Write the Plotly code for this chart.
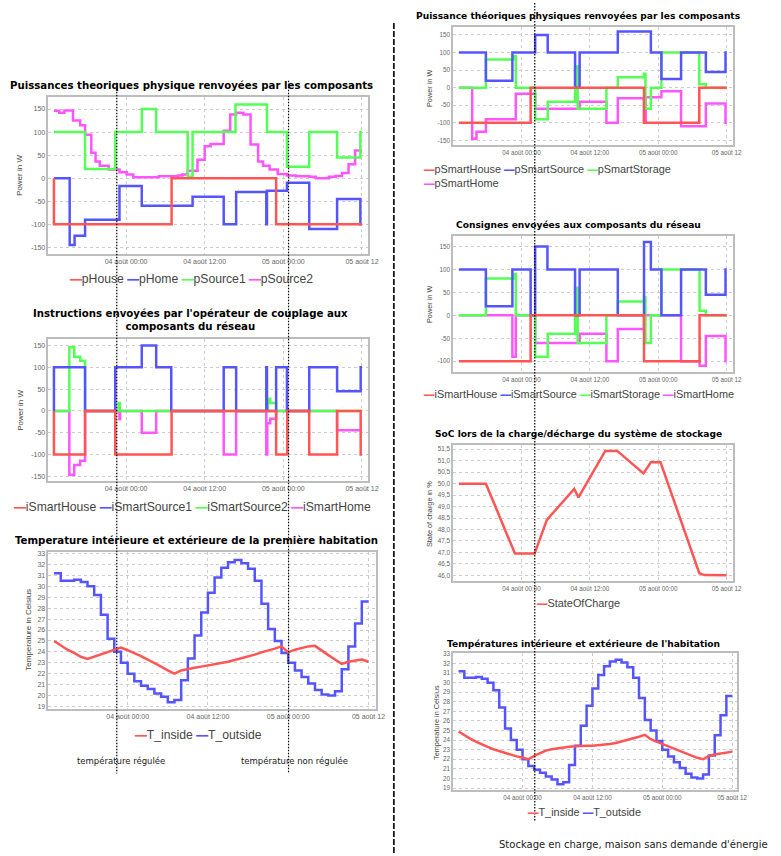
import plotly.graph_objects as go

W, H = 781, 856
RED, BLUE, GREEN, MAGENTA = "#ff5555", "#5555ff", "#55ff55", "#ff55ff"

# ---------------- axes / ticks ----------------
# time is expressed in hours relative to "04 août 00:00"
X_TICKVALS = [0, 12, 24, 36]
X_TICKTEXT = ["04 août 00:00", "04 août 12:00", "05 août 00:00", "05 août 12"]
HOURS = list(range(-11, 37))

POWER_TICKS = [-150, -100, -50, 0, 50, 100, 150]
POWER_TICKS_R2 = [-100, -50, 0, 50, 100, 150]
TEMP_TICKS = list(range(19, 34))
SOC_TICKS = [46.0, 46.5, 47.0, 47.5, 48.0, 48.5, 49.0, 49.5, 50.0, 50.5, 51.0, 51.5]

# ---------------- chart L1 : Puissances theoriques ----------------
pHouse_t = [-11, -11, 6.95, 22.9, 36]
pHouse_v = [0, -100, 0, -100, -100]
pHome_t = [-11, -8.6, -7.85, -6.25, -1.0, 2.4, 10.15, 14.9, 16.8, 21.4, 21.5, 24.55, 27.95, 32.2, 35.75, 36]
pHome_v = [0, -145, -125, -90, -17, -60, -40, -100, -30, -100, -27, -10, -110, -45, -100, -100]
pSource1_t = [-11, -6.25, -1.65, 2.4, 4.6, 9.4, 10.15, 16.7, 21.5, 24.55, 27.95, 32.2, 35.75, 36]
pSource1_v = [100, 20, 100, 150, 100, 3, 100, 160, 100, 25, 100, 45, 100, 100]
pSource2_t = [-11, -10.2, -9.4, -8.1, -7.0, -6.25, -5.3, -4.65, -4.0, -2.65, -1.0, 0.1, 1.1, 5.0, 7.9,
              8.6, 9.4, 10.9, 12.0, 12.9, 14.9, 15.9, 16.8, 17.9, 19.0, 20.15, 20.9, 21.9, 23.15, 24.55,
              25.9, 27.95, 28.95, 30.95, 31.95, 32.95, 33.95, 34.95, 36]
pSource2_v = [146, 142, 147, 125, 115, 94, 55, 36, 27, 19, 13, 8, 2, 4, 6,
              8, 16, 40, 69, 74, 103, 138, 142, 138, 73, 36, 27, 19, 9, 6,
              4, 3, 0, 3, 5, 11, 30, 60, 60]

# ---------------- chart L2 : Instructions ----------------
iSmartHouse_t = [-11, -11, -6.25, -1.65, 6.95, 22.9, 24.6, 27.95, 32.2, 35.8, 36]
iSmartHouse_v = [0, -100, 0, -100, 0, -100, 0, -100, 0, -100, -100]
iSmartSource1_t = [-11, -11, -6.25, -1.65, 2.4, 4.6, 6.9, 14.9, 16.8, 21.4, 21.5, 22.9, 24.55, 27.95, 32.2, 35.8, 36]
iSmartSource1_v = [0, 100, 0, 100, 150, 100, 0, 100, 0, 100, 0, 100, 0, 100, 45, 100, 100]
iSmartSource2_t = [-11, -8.65, -7.9, -7.0, -6.25, -1.1, -0.95, 21.65, 22.0, 22.9, 36]
iSmartSource2_v = [0, 146, 124, 115, 0, 18, 0, 28, 18, 0, 0]
iSmartHome_t = [-11, -8.65, -7.9, -7.0, -6.25, -1.0, -0.9, 2.4, 4.6, 14.9, 16.8, 21.4, 21.55, 22.0, 22.9, 32.2, 35.75]
iSmartHome_v = [0, -146, -124, -114, 0, -19, 0, -50, 0, -100, 0, -100, -28, -18, 0, -44, -44]

# ---------------- temperatures (hourly, HOURS) ----------------
T_outside = [31.2, 30.5, 30.5, 30.6, 30.4, 30.0, 29.2, 27.4, 25.2, 24.0, 23.0, 22.0, 21.3, 20.9, 20.6, 20.2,
             19.9, 19.4, 19.6, 21.4, 23.4, 25.5, 27.6, 29.4, 30.8, 31.7, 32.2, 32.4, 32.1, 31.6, 30.5, 28.4,
             26.1, 25.0, 23.9, 23.0, 22.3, 21.7, 21.1, 20.5, 20.1, 20.0, 20.4, 22.4, 24.5, 26.6, 28.6, 28.6]
T_inside_L = [25.0, 24.6, 24.2, 23.9, 23.55, 23.35, 23.55, 23.75, 23.95, 24.2, 24.4, 24.15, 23.9, 23.6, 23.3, 23.0,
              22.65, 22.3, 22.0, 22.3, 22.45, 22.55, 22.65, 22.75, 22.85, 22.95, 23.1, 23.25, 23.4, 23.6, 23.75, 23.95,
              24.1, 24.3, 24.5, 23.95, 24.2, 24.35, 24.5, 24.55, 24.1, 23.7, 23.3, 22.9, 23.1, 23.2, 23.3, 23.1]
T_inside_R = [24.9, 24.5, 24.15, 23.85, 23.55, 23.3, 23.05, 22.85, 22.65, 22.45, 22.3, 22.15, 22.0, 22.35, 22.65, 22.9,
              23.05, 23.15, 23.25, 23.3, 23.35, 23.4, 23.4, 23.4, 23.45, 23.5, 23.6, 23.7, 23.85, 24.0, 24.15, 24.35,
              24.55, 24.1, 23.85, 23.6, 23.35, 23.1, 22.85, 22.6, 22.35, 22.15, 22.0, 22.35, 22.5, 22.6, 22.7, 22.8]

# ---------------- chart R1 : Puissance théoriques (avec stockage) ----------------
pSmartHouse_t = [-11, 1.6, 21.5, 31.2, 36]
pSmartHouse_v = [-100, 0, -100, 0, 0]
pSmartSource_t = [-11, -6.25, -1.6, 2.4, 4.6, 9.4, 10.2, 16.9, 22.7, 24.55, 28.0, 32.35, 35.8, 36]
pSmartSource_v = [100, 20, 100, 150, 100, 0, 100, 160, 100, 25, 100, 45, 100, 100]
pSmartStorage_t = [-11, -6.25, -1.45, -1.0, 2.4, 4.6, 9.4, 9.85, 14.9, 16.9, 21.5, 21.75, 22.7, 24.55, 31.2, 32.35, 36]
pSmartStorage_v = [0, 80, 90, 0, -90, -40, 60, -60, 0, 30, 40, -60, 0, 100, 10, 0, 0]
pSmartHome_t = [-11, -8.65, -7.9, -6.25, -1.0, 2.4, 10.2, 14.9, 16.9, 21.5, 21.8, 24.55, 28.0, 32.35, 35.8, 36]
pSmartHome_v = [0, -145, -125, -90, -17, -60, -40, -100, -30, -100, -27, -10, -110, -45, -100, -100]

# ---------------- chart R2 : Consignes ----------------
iSmartHouseR_t = [-11, 1.6, 21.5, 31.25, 36]
iSmartHouseR_v = [-100, 0, -100, 0, 0]
iSmartSource_t = [-11, -6.25, -1.6, 1.6, 2.4, 4.55, 9.4, 10.2, 16.9, 21.5, 22.7, 24.55, 28.0, 32.35, 35.8, 36]
iSmartSource_v = [100, 20, 100, 0, 150, 100, 0, 100, 0, 160, 100, 0, 100, 45, 100, 100]
iSmartStorage_t = [-11, -6.25, -1.45, -1.0, 2.4, 4.6, 9.4, 9.85, 14.9, 16.9, 21.5, 21.75, 22.7, 24.55, 31.25, 32.35, 36]
iSmartStorage_v = [0, 80, 90, 0, -90, -40, 60, -60, 0, 30, 40, -60, 0, 100, 10, 0, 0]
iSmartHomeR_t = [-11, -1.6, -1.0, 2.4, 10.2, 14.9, 16.9, 21.5, 28.0, 31.25, 32.35, 35.8, 36]
iSmartHomeR_v = [0, -90, 0, -60, -40, -100, -30, 0, -100, -110, -45, -100, -100]

# ---------------- chart R3 : SoC ----------------
soc_t = [-11, -6.25, -1.15, 2.3, 4.45, 9.25, 10.0, 14.7, 16.8, 21.4, 22.7, 24.4, 31.2, 32.1, 36]
soc_v = [50.0, 50.0, 46.95, 46.95, 48.42, 49.77, 49.4, 51.43, 51.43, 50.45, 50.93, 50.93, 46.09, 46.01, 46.0]

# ---------------- panel layout (pixels) ----------------
LEFT_STYLE = dict(title_size=10.2, legend_size=12.2, tick_size=7, ylab_size=8)
RIGHT_STYLE = dict(title_size=9.1, legend_size=10.9, tick_size=6.3, ylab_size=7.3)

PANELS = [
    dict(frame=(49, 94, 373, 252), xr=(-11.85, 36.95), yr=(-164, 177), yt=POWER_TICKS, style=LEFT_STYLE,
         ylabel="Power in W", ylab_xy=(19, 173),
         title="Puissances theoriques physique renvoyées par les composants", title_xy=(194, 83),
         legend_xy=(193, 277), legend_align="center",
         series=[("pHouse", RED, pHouse_t, pHouse_v, "hv"), ("pHome", BLUE, pHome_t, pHome_v, "hv"),
                 ("pSource1", GREEN, pSource1_t, pSource1_v, "hv"), ("pSource2", MAGENTA, pSource2_t, pSource2_v, "hv")]),
    dict(frame=(49, 338, 373, 480), xr=(-11.85, 36.95), yr=(-160, 164), yt=POWER_TICKS, style=LEFT_STYLE,
         ylabel="Power in W", ylab_xy=(20, 409),
         title="Instructions envoyées par l'opérateur de couplage aux<br>composants du réseau", title_xy=(193, 318),
         legend_xy=(194, 506), legend_align="center",
         series=[("iSmartHouse", RED, iSmartHouse_t, iSmartHouse_v, "hv"),
                 ("iSmartSource1", BLUE, iSmartSource1_t, iSmartSource1_v, "hv"),
                 ("iSmartSource2", GREEN, iSmartSource2_t, iSmartSource2_v, "hv"),
                 ("iSmartHome", MAGENTA, iSmartHome_t, iSmartHome_v, "hv")]),
    dict(frame=(49, 552, 381, 709), xr=(-11.85, 37.14), yr=(18.8, 33.1), yt=TEMP_TICKS, style=LEFT_STYLE,
         ylabel="Temperature in Celsius", ylab_xy=(28, 630),
         title="Temperature intérieure et extérieure de la première habitation", title_xy=(199, 540),
         legend_xy=(201, 735), legend_align="center",
         series=[("T_inside", RED, HOURS, T_inside_L, "linear"), ("T_outside", BLUE, HOURS, T_outside, "hv")]),
    dict(frame=(459, 24, 743, 143), xr=(-12.0, 37.2), yr=(-164, 173), yt=POWER_TICKS, style=RIGHT_STYLE,
         ylabel="Power in W", ylab_xy=(435, 86),
         title="Puissance théoriques physiques renvoyées par les composants", title_xy=(586, 13),
         legend_xy=(426, 174), legend_align="left", legend_break=3,
         series=[("pSmartHouse", RED, pSmartHouse_t, pSmartHouse_v, "hv"),
                 ("pSmartSource", BLUE, pSmartSource_t, pSmartSource_v, "hv"),
                 ("pSmartStorage", GREEN, pSmartStorage_t, pSmartStorage_v, "hv"),
                 ("pSmartHome", MAGENTA, pSmartHome_t, pSmartHome_v, "hv")]),
    dict(frame=(459, 234, 743, 371), xr=(-12.0, 37.2), yr=(-124, 173), yt=POWER_TICKS_R2, style=RIGHT_STYLE,
         ylabel="Power in W", ylab_xy=(435, 303),
         title="Consignes envoyées aux composants du réseau", title_xy=(586, 223),
         legend_xy=(586, 393), legend_align="center",
         series=[("iSmartHouse", RED, iSmartHouseR_t, iSmartHouseR_v, "hv"),
                 ("iSmartSource", BLUE, iSmartSource_t, iSmartSource_v, "hv"),
                 ("iSmartStorage", GREEN, iSmartStorage_t, iSmartStorage_v, "hv"),
                 ("iSmartHome", MAGENTA, iSmartHomeR_t, iSmartHomeR_v, "hv")]),
    dict(frame=(459, 444, 743, 581), xr=(-12.0, 37.2), yr=(45.74, 51.69), yt=SOC_TICKS, decimal=True,
         style=RIGHT_STYLE, ylabel="State of charge in %", ylab_xy=(435, 513),
         title="SoC lors de la charge/décharge du système de stockage", title_xy=(586, 433),
         legend_xy=(585, 603), legend_align="center",
         series=[("StateOfCharge", RED, soc_t, soc_v, "linear")]),
    dict(frame=(459, 653, 747, 791), xr=(-11.92, 36.9), yr=(18.76, 33.1), yt=TEMP_TICKS, style=RIGHT_STYLE,
         ylabel="Temperature in Celsius", ylab_xy=(442, 723),
         title="Températures intérieure et extérieure de l'habitation", title_xy=(591, 644),
         legend_xy=(592, 813), legend_align="center",
         series=[("T_inside", RED, HOURS, T_inside_R, "linear"), ("T_outside", BLUE, HOURS, T_outside, "hv")]),
]


def px(x):
    return x / W


def py(y):
    return 1 - y / H


fig = go.Figure()
layout = dict(width=W, height=H, margin=dict(l=0, r=0, t=0, b=0), showlegend=False,
              paper_bgcolor="white", plot_bgcolor="white", annotations=[], shapes=[])

GRID = "#cccccc"

for i, p in enumerate(PANELS, start=1):
    sx = "" if i == 1 else str(i)
    st = p["style"]
    tickfont = dict(family="Liberation Sans", size=st["tick_size"], color="#666666")
    x0, y0, x1, y1 = p["frame"]
    if p.get("decimal"):
        ytext = [f"{v:.1f}".replace(".", ",") for v in p["yt"]]
    else:
        ytext = [str(v) for v in p["yt"]]
    common = dict(tickfont=tickfont, showgrid=True, gridcolor=GRID, griddash="dot", gridwidth=1,
                  showline=True, mirror=True, linecolor="#bdbdbd", linewidth=1.5,
                  zeroline=False, ticks="", fixedrange=True)
    layout["xaxis" + sx] = dict(domain=[px(x0), px(x1)], range=list(p["xr"]), anchor="y" + sx,
                                tickvals=X_TICKVALS, ticktext=X_TICKTEXT, **common)
    layout["yaxis" + sx] = dict(domain=[py(y1), py(y0)], range=list(p["yr"]), anchor="x" + sx,
                                tickvals=p["yt"], ticktext=ytext, **common)
    # series 0 drawn on top -> add in reverse order
    for name, color, t, v, shape in reversed(p["series"]):
        fig.add_trace(go.Scatter(x=t, y=v, mode="lines", name=name,
                                 line=dict(color=color, width=2.5, shape=shape),
                                 xaxis="x" + sx, yaxis="y" + sx, cliponaxis=True))
    # title
    tx, ty = p["title_xy"]
    layout["annotations"].append(dict(text="<b>" + p["title"] + "</b>", x=px(tx), y=py(ty), xref="paper",
                                      yref="paper", xanchor="center", yanchor="middle", showarrow=False,
                                      font=dict(family="DejaVu Sans", size=st["title_size"], color="black")))
    # y-axis label
    lx, ly = p["ylab_xy"]
    layout["annotations"].append(dict(text=p["ylabel"], x=px(lx), y=py(ly), xref="paper", yref="paper",
                                      xanchor="center", yanchor="middle", showarrow=False, textangle=-90,
                                      font=dict(family="Liberation Sans", size=st["ylab_size"], color="#444444")))
    # legend
    dash_size = round(st["legend_size"] * 0.8, 1)
    items = [f"<span style='color:{c};font-family:DejaVu Sans;font-size:{dash_size}px'>━━</span>{n}"
             for n, c, *_ in p["series"]]
    brk = p.get("legend_break")
    if brk:
        ltext = " ".join(items[:brk]) + "<br>" + " ".join(items[brk:])
    else:
        ltext = " ".join(items)
    gx, gy = p["legend_xy"]
    layout["annotations"].append(dict(text=ltext, x=px(gx), y=py(gy), xref="paper", yref="paper",
                                      xanchor=p["legend_align"], yanchor="middle", align="left",
                                      showarrow=False,
                                      font=dict(family="Liberation Sans", size=st["legend_size"], color="#444444")))

# free texts
for txt, x, y, size, anchor in [("température régulée", 123, 762, 8.5, "center"),
                                ("température non régulée", 298, 762, 8.5, "center"),
                                ("Stockage en charge, maison sans demande d'énergie", 780, 845, 10, "right")]:
    layout["annotations"].append(dict(text=txt, x=px(x), y=py(y), xref="paper", yref="paper",
                                      xanchor=anchor, yanchor="middle", showarrow=False,
                                      font=dict(family="DejaVu Sans", size=size, color="#222222")))

# hand-drawn separators
for x, ya, yb, dash, w in [(118.3, 80, 774, "1.5px,1.5px", 1.2),
                           (292.3, 78, 774, "1.5px,1.5px", 1.2),
                           (541.7, 0, 822, "1.5px,1.5px", 1.2),
                           (399, 20, 856, "6px,2px", 1.6)]:
    layout["shapes"].append(dict(type="line", xref="paper", yref="paper", x0=px(x), x1=px(x),
                                 y0=py(ya), y1=py(yb), line=dict(color="black", width=w, dash=dash)))

fig.update_layout(**layout)
fig.write_html("out.html", config=dict(displayModeBar=False),
               post_script="document.body.style.margin='0';document.body.style.overflow='hidden';")
